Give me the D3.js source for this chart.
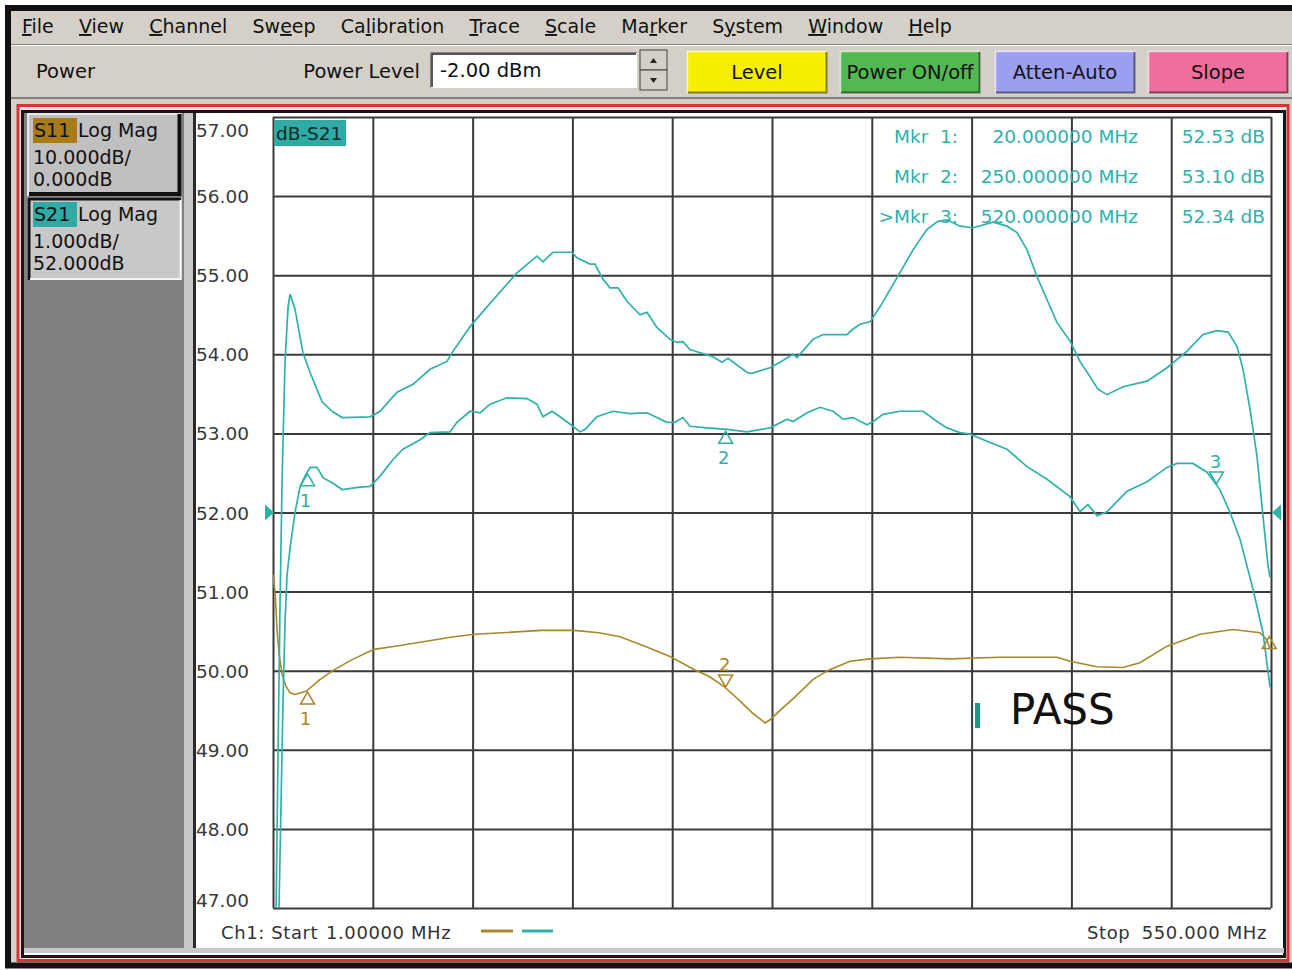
<!DOCTYPE html>
<html><head><meta charset="utf-8">
<script src="https://cdn.jsdelivr.net/npm/d3@7"></script>
<style>
body{margin:0;background:#fff;}
svg{display:block;}
text{font-family:"DejaVu Sans",sans-serif;}
</style>
</head><body>
<svg id="c" width="1292" height="970"></svg>
<script>
// ---------------- DATA ----------------
const fStart = 1, fStop = 550;            // MHz
const s21Ref = 52, s21Div = 1;            // dB, dB/div
const s11Ref = 0, s11Div = 10;            // dB, dB/div

const upperFreq = [2.7,3.8,4.9,6.0,7.6,9.3,10.4,13.1,17.5,21.4,28.0,33.5,39.0,54.4,59.9,69.2,78.0,87.4,96.7,99.5,109.4,118.7,135.2,146.2,149.5,155.0,165.5,168.2,175.4,178.1,182.5,186.4,190.8,195.7,202.9,206.7,212.2,219.4,223.2,226.5,230.4,243.0,248.0,251.3,261.8,264.5,274.4,279.9,287.1,289.3,298.1,303.6,316.8,319.5,323.9,329.4,334.9,344.3,353.1,360.8,366.8,371.8,378.9,386.1,397.1,404.8,410.3,415.8,421.3,426.8,432.3,439.4,444.9,450.4,454.8,459.8,468.6,481.8,492.8,503.8,512.6,520.3,526.4,531.3,534.6,538.5,542.3,545.6,548.4,549.5];
const upperS21 = [47.0,49.0,50.9,52.4,53.9,54.6,54.76,54.57,54.02,53.77,53.40,53.28,53.20,53.21,53.28,53.52,53.62,53.81,53.91,54.02,54.35,54.60,55.03,55.24,55.17,55.29,55.29,55.22,55.14,55.14,54.95,54.84,54.84,54.67,54.50,54.53,54.34,54.19,54.15,54.16,54.06,53.97,53.90,53.95,53.77,53.76,53.83,53.90,54.00,53.96,54.19,54.25,54.25,54.31,54.38,54.41,54.60,54.97,55.32,55.58,55.68,55.70,55.62,55.60,55.67,55.62,55.54,55.32,54.98,54.69,54.40,54.17,53.91,53.72,53.56,53.49,53.59,53.66,53.83,54.04,54.25,54.30,54.28,54.10,53.81,53.30,52.71,51.95,51.32,51.18];

const lowerFreq = [4.3,5.4,6.5,7.6,8.7,10.4,13.1,15.9,18.6,21.4,25.2,28.5,34.0,39.0,48.9,54.4,59.9,67.0,72.5,81.9,87.4,98.4,102.2,109.4,114.9,120.4,129.7,140.7,146.2,149.5,154.5,158.9,166.0,169.9,172.6,179.2,188.0,197.4,206.7,217.7,222.1,226.5,230.4,239.7,250.8,261.8,274.4,283.8,287.1,294.8,301.9,309.1,314.6,320.1,327.8,331.1,336.6,345.9,358.6,366.3,371.8,378.9,384.4,393.8,404.8,415.8,426.8,439.4,444.9,449.3,454.3,459.8,470.8,481.8,492.8,498.3,507.1,514.8,521.9,527.5,533.0,540.1,545.6,549.5];
const lowerS21 = [47.0,48.3,49.6,50.6,51.2,51.55,52.0,52.33,52.46,52.57,52.57,52.44,52.37,52.29,52.32,52.33,52.46,52.67,52.80,52.92,53.01,53.02,53.14,53.28,53.26,53.37,53.45,53.44,53.37,53.21,53.28,53.21,53.09,53.02,53.05,53.21,53.28,53.25,53.26,53.14,53.14,53.20,53.09,53.07,53.05,53.02,53.07,53.18,53.15,53.26,53.33,53.28,53.18,53.20,53.11,53.15,53.24,53.28,53.28,53.15,53.07,53.01,52.99,52.90,52.80,52.58,52.42,52.20,52.01,52.10,51.96,52.01,52.27,52.39,52.57,52.62,52.62,52.51,52.29,52.00,51.66,51.03,50.48,49.79];

const s11Freq = [1.0,2.1,2.7,3.2,4.3,6.0,8.2,10.4,13.1,19.2,26.9,34.6,44.5,56.6,68.1,81.9,97.8,111.6,127.0,148.4,166.6,180.3,191.9,205.6,219.4,233.1,240.8,249.1,256.8,264.5,271.7,274.4,280.5,288.2,298.1,306.9,318.4,329.4,345.9,373.4,400.9,432.3,439.4,454.3,468.6,477.9,492.8,510.9,529.1,544.0,547.8,549.5];
const s11dB = [-7.8,-10.0,-12.3,-14.8,-17.7,-20.5,-22.0,-22.8,-23.0,-22.6,-21.1,-19.9,-18.6,-17.3,-16.9,-16.4,-15.8,-15.4,-15.2,-14.9,-14.9,-15.2,-15.7,-16.9,-18.2,-19.9,-20.7,-22.0,-23.6,-25.3,-26.6,-26.2,-24.9,-23.3,-21.1,-19.9,-18.8,-18.5,-18.3,-18.5,-18.3,-18.3,-18.8,-19.5,-19.6,-19.0,-16.9,-15.4,-14.8,-15.2,-16.1,-17.3];

const yTickValues = [57,56,55,54,53,52,51,50,49,48,47];
const yTickLabels = ["57.00","56.00","55.00","54.00","53.00","52.00","51.00","50.00","49.00","48.00","47.00"];

const markerFreqs = [20, 250, 520];
const markerNames = ["Mkr  1:", "Mkr  2:", ">Mkr  3:"];
const markerFreqText = ["20.000000 MHz", "250.000000 MHz", "520.000000 MHz"];
const markerValText = ["52.53 dB", "53.10 dB", "52.34 dB"];
const s21MarkerDir = ["up", "up", "down"];
const s11MarkerDir = ["up", "down"];
const s11EdgeMarkerFreq = 549;

const menuItems = ["File","View","Channel","Sweep","Calibration","Trace","Scale","Marker","System","Window","Help"];
const menuUnderline = [0,0,0,2,2,0,0,2,1,0,0];
const buttonLabels = ["Level","Power ON/off","Atten-Auto","Slope"];
const buttonColors = ["#f6f000","#52b852","#9c9ef0","#ef6e9e"];

// ---------------- COLORS ----------------
const cyan = "#2fb1ab", brown = "#a8882a", s11Box = "#a87a18", s21Box = "#30aaa4";
const grid = "#3a3a3a";

// ---------------- SCALES ----------------
const plot = {l:273, r:1271, t:117, b:908};
const x = d3.scaleLinear().domain([fStart, fStop]).range([plot.l, plot.r]);
const y = d3.scaleLinear().domain([s21Ref - 5*s21Div, s21Ref + 5*s21Div]).range([plot.b, plot.t]);
const y11 = d3.scaleLinear().domain([s11Ref - 5*s11Div, s11Ref + 5*s11Div]).range([plot.b, plot.t]);

const svg = d3.select("#c");

// ---------------- WINDOW CHROME ----------------
svg.append("rect").attr("width",1292).attr("height",970).attr("fill","#fff");
svg.append("rect").attr("x",8).attr("y",8).attr("width",1292).attr("height",957.5)
  .attr("fill","#d4d0c8").attr("stroke","#101010").attr("stroke-width",6);
svg.append("line").attr("x1",11).attr("x2",1292).attr("y1",44.5).attr("y2",44.5).attr("stroke","#808080");
svg.append("line").attr("x1",11).attr("x2",1292).attr("y1",45.5).attr("y2",45.5).attr("stroke","#ffffff");
svg.append("line").attr("x1",11).attr("x2",1292).attr("y1",98).attr("y2",98).attr("stroke","#808080").attr("stroke-width",2);

// menu text
const menuG = svg.append("g");
let mx = 22;
menuItems.forEach((m,i) => {
  const t = menuG.append("text").attr("x",mx).attr("y",33).attr("font-size",19).attr("fill","#111");
  const u = menuUnderline[i];
  if (u > 0) t.append("tspan").text(m.slice(0,u));
  t.append("tspan").attr("text-decoration","underline").text(m[u]);
  t.append("tspan").text(m.slice(u+1));
  mx += t.node().getComputedTextLength() + 25.2;
});

// toolbar
svg.append("text").attr("x",36).attr("y",78).attr("font-size",19.5).attr("fill","#111").text("Power");
svg.append("text").attr("x",420).attr("y",78).attr("font-size",19.5).attr("text-anchor","end").attr("fill","#111").text("Power Level");
svg.append("rect").attr("x",430).attr("y",52).attr("width",207).attr("height",36).attr("fill","#fff");
svg.append("path").attr("d","M430.5,88 V52.5 H637").attr("fill","none").attr("stroke","#808080").attr("stroke-width",1);
svg.append("path").attr("d","M432,87 V54 H636").attr("fill","none").attr("stroke","#202020").attr("stroke-width",1.5);
svg.append("text").attr("x",440).attr("y",77).attr("font-size",19.5).attr("fill","#111").text("-2.00 dBm");
[[640,50],[640,70]].forEach(([sx,sy],i) => {
  svg.append("rect").attr("x",sx).attr("y",sy).attr("width",27).attr("height",20).attr("fill","#d4d0c8")
    .attr("stroke","#404040").attr("stroke-width",1);
  svg.append("path").attr("d", i===0 ? `M${sx+10},${sy+13} L${sx+17},${sy+13} L${sx+13.5},${sy+8}Z`
                                      : `M${sx+10},${sy+8} L${sx+17},${sy+8} L${sx+13.5},${sy+13}Z`).attr("fill","#222");
});
const btnX = [687, 840, 995, 1148], btnW = 140;
buttonLabels.forEach((b,i) => {
  const g = svg.append("g");
  g.append("rect").attr("x",btnX[i]).attr("y",51).attr("width",btnW).attr("height",42).attr("fill",buttonColors[i]);
  g.append("path").attr("d",`M${btnX[i]+0.5},${93} V51.5 H${btnX[i]+btnW}`).attr("fill","none").attr("stroke","rgba(255,255,255,0.7)").attr("stroke-width",1.5);
  g.append("path").attr("d",`M${btnX[i]+1},92.5 H${btnX[i]+btnW-0.5} V52`).attr("fill","none").attr("stroke","rgba(0,0,0,0.45)").attr("stroke-width",2);
  g.append("text").attr("x",btnX[i]+btnW/2).attr("y",79).attr("text-anchor","middle").attr("font-size",19.5)
    .attr("fill","#111").text(b);
});

// chart window frame
svg.append("rect").attr("x",18).attr("y",105.5).attr("width",1270).attr("height",855)
  .attr("fill","#e8e8e8").attr("stroke","#d83232").attr("stroke-width",3);
svg.append("rect").attr("x",22.5).attr("y",111.5).attr("width",1262).attr("height",845)
  .attr("fill","#ffffff").attr("stroke","#151515").attr("stroke-width",3);
svg.append("rect").attr("x",24).attr("y",113).attr("width",160).attr("height",836).attr("fill","#808080");
svg.append("rect").attr("x",184).attr("y",113).attr("width",9).attr("height",836).attr("fill","#c8c8c8");
svg.append("rect").attr("x",193).attr("y",113).attr("width",3).attr("height",836).attr("fill","#2a2a2a");
svg.append("rect").attr("x",24).attr("y",948).attr("width",1260).attr("height",5).attr("fill","#c8c8c8");

// trace boxes
function traceBox(by, raised, label, labelColor, lines) {
  const g = svg.append("g");
  g.append("rect").attr("x",27).attr("y",by).attr("width",155).attr("height",83).attr("fill", raised ? "#c0c0c0" : "#c8c8c8");
  if (raised) {
    g.append("path").attr("d",`M28,${by+83} V${by+1} H181`).attr("fill","none").attr("stroke","#e8e8e8").attr("stroke-width",2);
    g.append("path").attr("d",`M29,${by+81} H179.5 V${by+1}`).attr("fill","none").attr("stroke","#111").attr("stroke-width",4);
  } else {
    g.append("path").attr("d",`M29,${by+83} V${by+2} H181`).attr("fill","none").attr("stroke","#111").attr("stroke-width",3);
    g.append("path").attr("d",`M30,${by+82} H180.5 V${by+3}`).attr("fill","none").attr("stroke","#f4f4f4").attr("stroke-width",2);
  }
  g.append("rect").attr("x",33).attr("y",by+5).attr("width",44).attr("height",25).attr("fill",labelColor);
  g.append("text").attr("x",34).attr("y",by+24).attr("font-size",19).attr("fill","#111").text(label);
  g.append("text").attr("x",78).attr("y",by+24).attr("font-size",19).attr("fill","#111").text("Log Mag");
  lines.forEach((l,i) => g.append("text").attr("x",33).attr("y",by+51+i*22).attr("font-size",19).attr("fill","#111").text(l));
}
traceBox(113, true, "S11", s11Box, ["10.000dB/", "0.000dB"]);
traceBox(197, false, "S21", s21Box, ["1.000dB/", "52.000dB"]);

// ---------------- GRID (axes) ----------------
const xGridVals = d3.range(11).map(i => fStart + i * (fStop - fStart) / 10);
svg.append("g").attr("transform",`translate(0,${plot.b})`)
  .call(d3.axisBottom(x).tickValues(xGridVals).tickSize(-(plot.b - plot.t)).tickFormat(""))
  .call(g => g.select(".domain").remove())
  .call(g => g.selectAll("line").attr("stroke",grid).attr("stroke-width",2));
svg.append("g").attr("transform",`translate(${plot.l},0)`)
  .call(d3.axisLeft(y).tickValues(yTickValues).tickSize(-(plot.r - plot.l)).tickFormat(""))
  .call(g => g.select(".domain").remove())
  .call(g => g.selectAll("line").attr("stroke",grid).attr("stroke-width",2));

svg.append("g").selectAll("text").data(yTickValues).join("text")
  .attr("x",196).attr("y",v => Math.max(130, Math.min(900, y(v))) + 7)
  .attr("font-size",18.5).attr("fill","#3a3a3a").text((v,i) => yTickLabels[i]);

// reference position arrows (52 dB)
svg.append("path").attr("d",`M${plot.l-8},${y(s21Ref)-8} L${plot.l+1},${y(s21Ref)} L${plot.l-8},${y(s21Ref)+8}Z`).attr("fill",cyan);
svg.append("path").attr("d",`M${plot.r+10},${y(s21Ref)-8} L${plot.r+1},${y(s21Ref)} L${plot.r+10},${y(s21Ref)+8}Z`).attr("fill",cyan);

svg.append("rect").attr("x",274).attr("y",120).attr("width",72).attr("height",26).attr("fill",s21Box);
svg.append("text").attr("x",276).attr("y",140).attr("font-size",18.5).attr("fill","#0c2a2a").text("dB-S21");

// ---------------- TRACES ----------------
svg.append("clipPath").attr("id","pc").append("rect")
  .attr("x",plot.l).attr("y",plot.t).attr("width",plot.r-plot.l+1).attr("height",plot.b-plot.t+1);
const traces = svg.append("g").attr("clip-path","url(#pc)");
const line21 = d3.line().x(d => x(d[0])).y(d => y(d[1]));
const line11 = d3.line().x(d => x(d[0])).y(d => y11(d[1]));
traces.append("path").attr("d", line11(d3.zip(s11Freq, s11dB))).attr("fill","none").attr("stroke",brown).attr("stroke-width",1.6);
traces.append("path").attr("d", line21(d3.zip(upperFreq, upperS21))).attr("fill","none").attr("stroke",cyan).attr("stroke-width",1.7);
traces.append("path").attr("d", line21(d3.zip(lowerFreq, lowerS21))).attr("fill","none").attr("stroke",cyan).attr("stroke-width",1.7);

// ---------------- MARKERS ----------------
function interp(fs, vs, f) {
  const i = Math.max(1, Math.min(fs.length - 1, d3.bisectLeft(fs, f)));
  const t = (f - fs[i-1]) / (fs[i] - fs[i-1]);
  return vs[i-1] + t * (vs[i] - vs[i-1]);
}
function drawMarker(px, py, dir, label, color) {
  const g = svg.append("g");
  if (dir === "up") {
    g.append("path").attr("d",`M${px},${py+2} L${px-7},${py+14} L${px+7},${py+14}Z`).attr("fill","none").attr("stroke",color).attr("stroke-width",1.5);
    if (label) g.append("text").attr("x",px-2).attr("y",py+35).attr("text-anchor","middle").attr("font-size",18).attr("fill",color).text(label);
  } else {
    g.append("path").attr("d",`M${px},${py-1} L${px-7},${py-13} L${px+7},${py-13}Z`).attr("fill","none").attr("stroke",color).attr("stroke-width",1.5);
    if (label) g.append("text").attr("x",px-1).attr("y",py-17).attr("text-anchor","middle").attr("font-size",18).attr("fill",color).text(label);
  }
}
markerFreqs.forEach((f,i) => {
  drawMarker(x(f), y(interp(lowerFreq, lowerS21, f)), s21MarkerDir[i], String(i+1), cyan);
});
markerFreqs.slice(0,2).forEach((f,i) => {
  drawMarker(x(f), y11(interp(s11Freq, s11dB, f)), s11MarkerDir[i], String(i+1), brown);
});
drawMarker(x(s11EdgeMarkerFreq), y11(interp(s11Freq, s11dB, s11EdgeMarkerFreq)) - 12, "up", null, brown);

// marker readout
const mk = svg.append("g").attr("font-size",18.5).attr("fill",cyan);
markerNames.forEach((n,i) => {
  const yy = 143 + i*40;
  mk.append("text").attr("x",958).attr("y",yy).attr("text-anchor","end").style("white-space","pre").text(n);
  mk.append("text").attr("x",1138).attr("y",yy).attr("text-anchor","end").text(markerFreqText[i]);
  mk.append("text").attr("x",1265).attr("y",yy).attr("text-anchor","end").text(markerValText[i]);
});

// PASS indicator
svg.append("rect").attr("x",975).attr("y",703).attr("width",5).attr("height",25).attr("fill","#1a9a88");
svg.append("text").attr("x",1010).attr("y",724).attr("font-family","'Liberation Sans',Arial,sans-serif").attr("font-size",42).attr("fill","#111").text("PASS");

// bottom status line
const bt = svg.append("g").attr("font-size",18).attr("fill","#333").attr("letter-spacing",0.6);
bt.append("text").attr("x",221).attr("y",939).text("Ch1: Start");
bt.append("text").attr("x",326).attr("y",939).text("1.00000 MHz");
svg.append("line").attr("x1",481).attr("x2",513).attr("y1",931).attr("y2",931).attr("stroke",brown).attr("stroke-width",3);
svg.append("line").attr("x1",522).attr("x2",553).attr("y1",931).attr("y2",931).attr("stroke",cyan).attr("stroke-width",3);
bt.append("text").attr("x",1267).attr("y",939).attr("text-anchor","end").text("550.000 MHz");
bt.append("text").attr("x",1087).attr("y",939).text("Stop");
</script>
</body></html>
